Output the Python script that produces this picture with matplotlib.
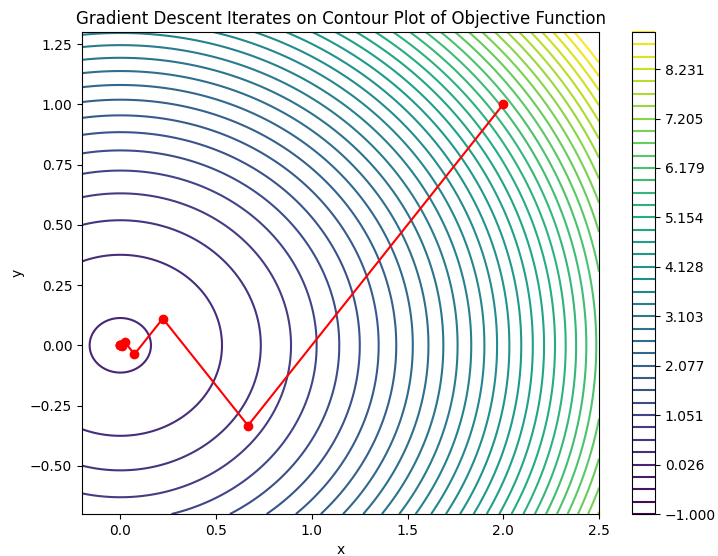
import numpy as np
import matplotlib
matplotlib.use("Agg")
import matplotlib.pyplot as plt

# Gradient descent iterates
iter_x = [2.0, 0.667, 0.222, 0.074, 0.025, 0.008, 0.003, 0.001, 0.0003, 0.0001]
iter_y = [1.0, -0.333, 0.111, -0.037, 0.012, -0.004, 0.001, -0.0005, 0.0002, -0.0001]

x_range = (-0.2, 2.5)
y_range = (-0.7, 1.3)
level_min, level_max, n_levels = -1.0, 9.0, 40

def objective(x, y):
    return x**2 + 2 * y**2

fig = plt.figure(figsize=(7.18, 5.56), dpi=100)
ax = fig.add_axes([82/718, 42/556, 517/718, 482/556])
cax = fig.add_axes([632/718, 42/556, 23/718, 482/556])

xs = np.linspace(x_range[0], x_range[1], 400)
ys = np.linspace(y_range[0], y_range[1], 400)
X, Y = np.meshgrid(xs, ys)
Z = objective(X, Y)
levels = np.linspace(level_min, level_max, n_levels)
cs = ax.contour(X, Y, Z, levels=levels, cmap='viridis')
fig.colorbar(cs, cax=cax)

ax.plot(iter_x, iter_y, 'ro-')
ax.set_xlim(*x_range)
ax.set_ylim(*y_range)
ax.set_xlabel('x')
ax.set_ylabel('y')
ax.set_title('Gradient Descent Iterates on Contour Plot of Objective Function')

fig.savefig('out.png', dpi=100)
